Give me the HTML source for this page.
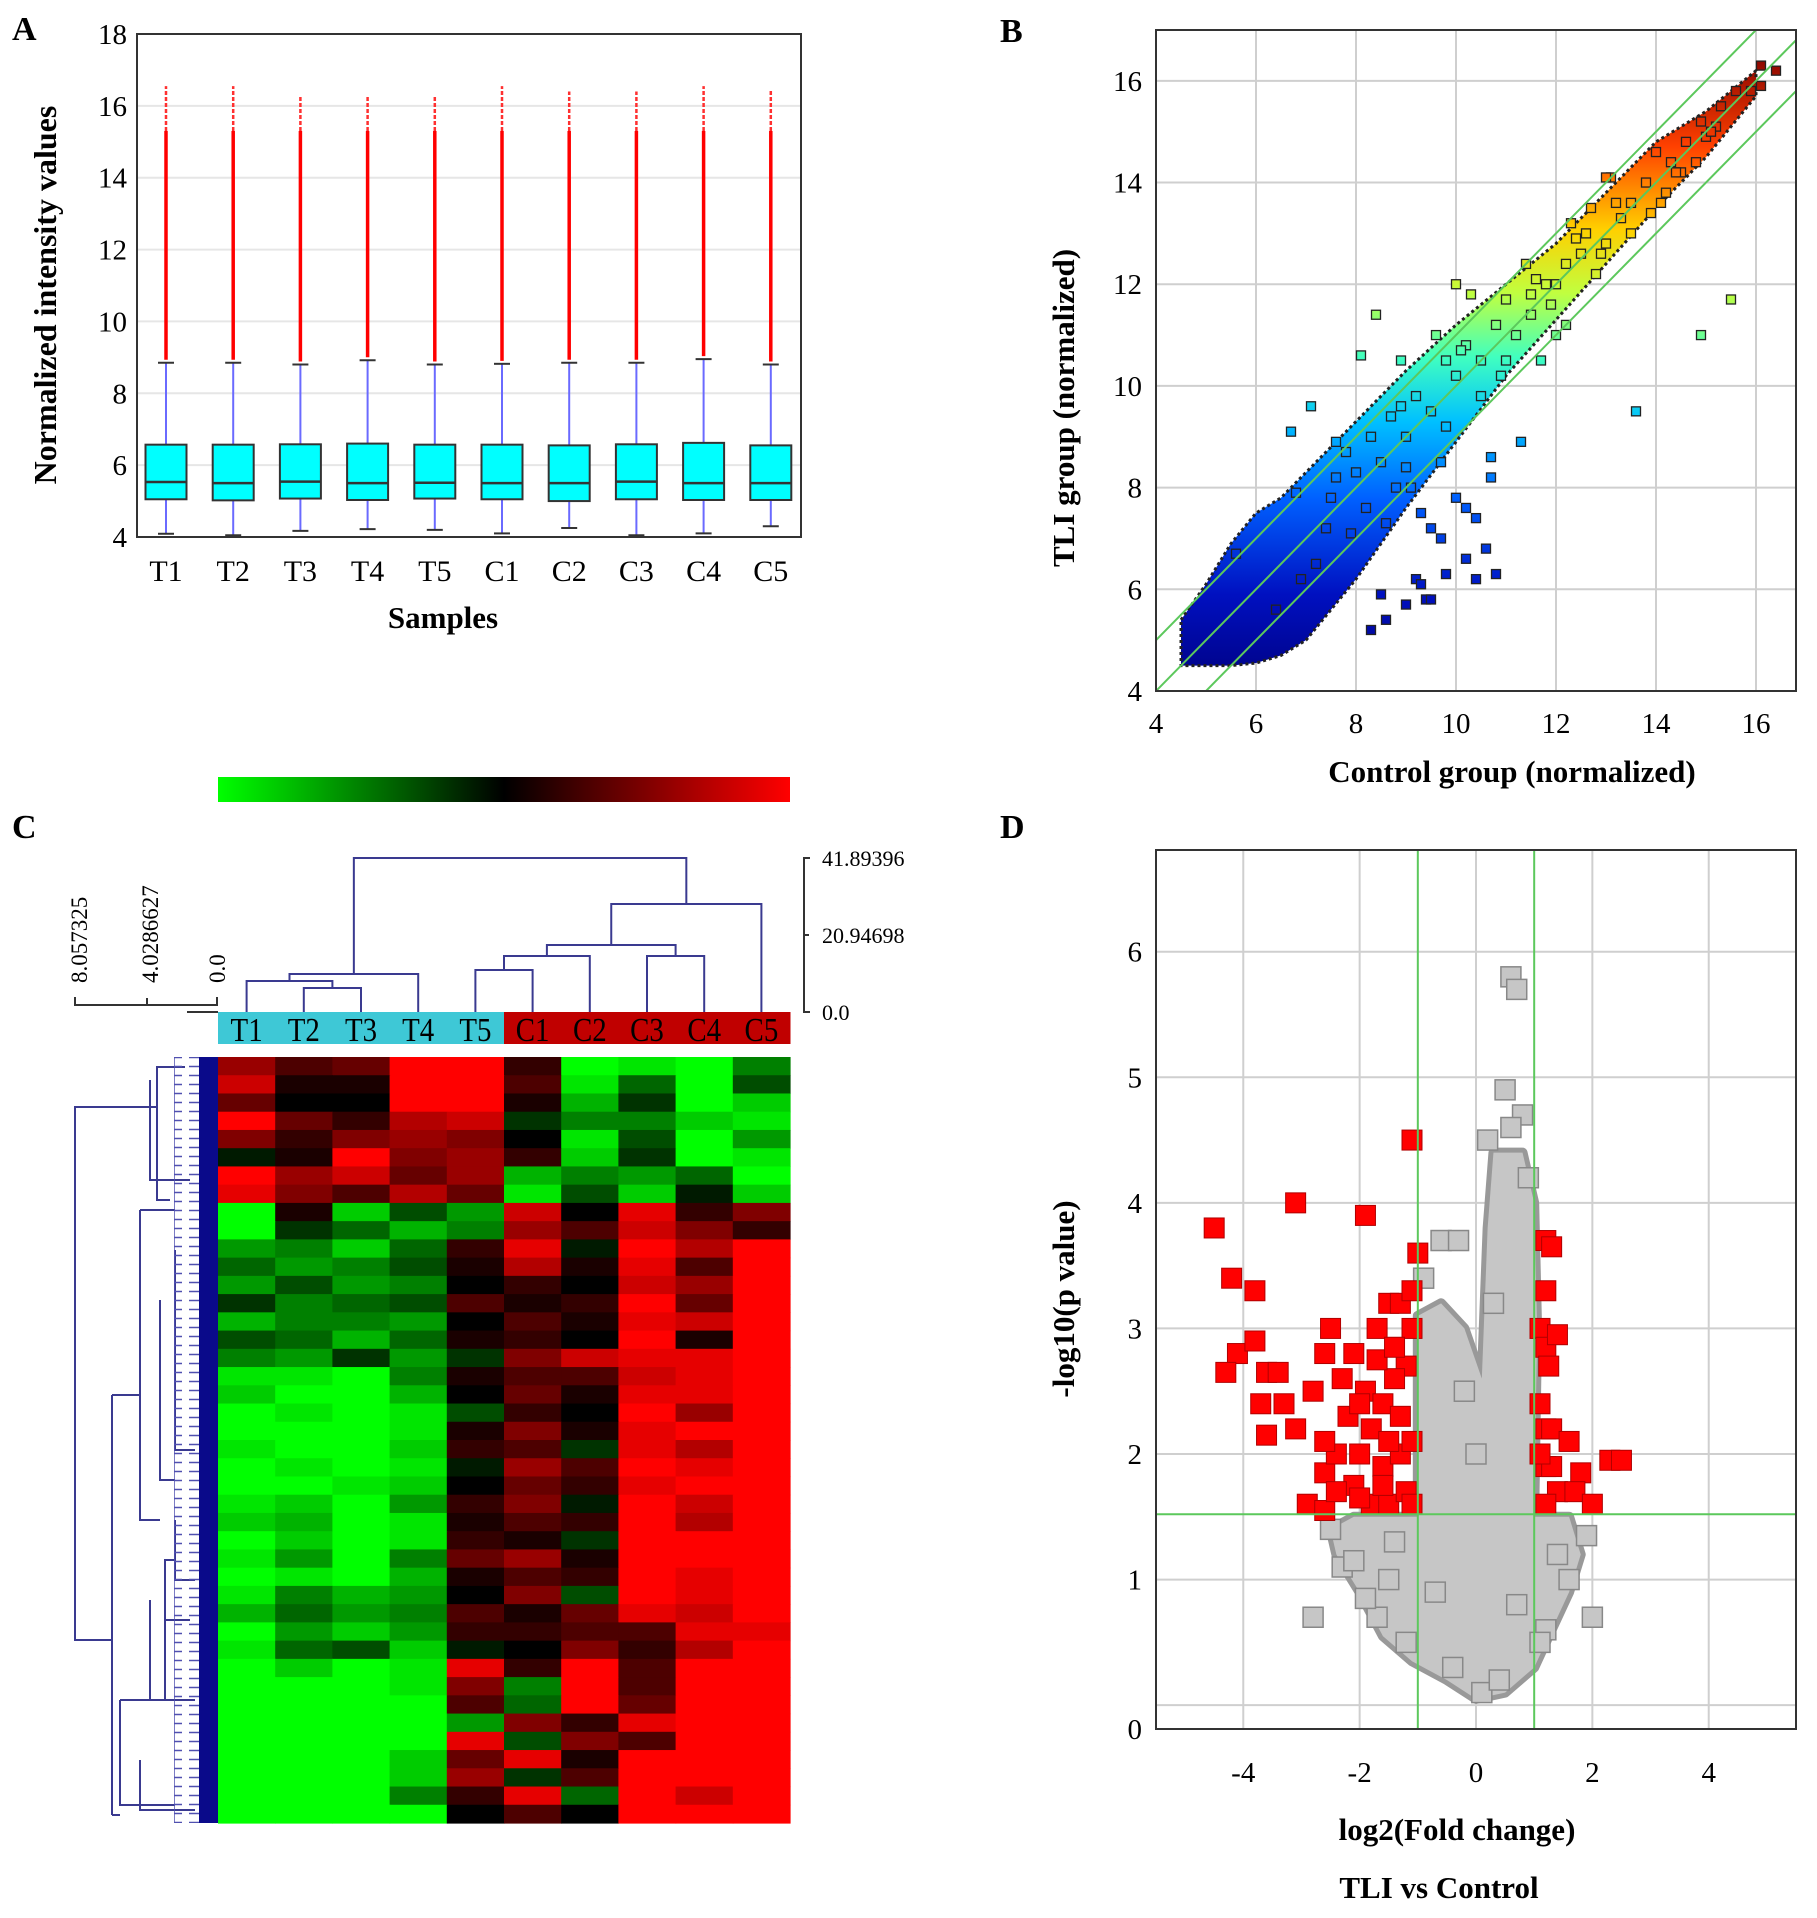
<!DOCTYPE html>
<html><head><meta charset="utf-8">
<style>
html,body{margin:0;padding:0;background:#fff;}
svg{display:block;font-family:"Liberation Serif",serif;}
</style></head>
<body>
<svg id="fig" width="1817" height="1918" viewBox="0 0 1817 1918" xmlns="http://www.w3.org/2000/svg">
<defs>
<linearGradient id="cbar" x1="0" x2="1" y1="0" y2="0">
<stop offset="0" stop-color="#00ff00"/><stop offset="0.5" stop-color="#000"/><stop offset="1" stop-color="#ff0000"/>
</linearGradient>
<linearGradient id="jetB" gradientUnits="userSpaceOnUse" x1="0" y1="691" x2="0" y2="50">
<stop offset="0" stop-color="#00007f"/><stop offset="0.15" stop-color="#0010c0"/><stop offset="0.3" stop-color="#0060ff"/><stop offset="0.42" stop-color="#00c0ff"/><stop offset="0.52" stop-color="#40ffc0"/><stop offset="0.62" stop-color="#c0ff40"/><stop offset="0.72" stop-color="#ffd000"/><stop offset="0.85" stop-color="#ff4000"/><stop offset="1" stop-color="#800000"/>
</linearGradient>
<pattern id="leafPat" width="27" height="9" patternUnits="userSpaceOnUse">
<path d="M0,4.5H20M12,0V9" stroke="#5050b0" stroke-width="1.5" fill="none"/>
</pattern>
</defs>
<g id="pA"></g>
<g id="pB"></g>
<g id="pC"></g>
<g id="pD"></g>
</svg>
<script>
// ---------- Panel A data ----------
const samplesA = ["T1","T2","T3","T4","T5","C1","C2","C3","C4","C5"];
const q1A = [5.05,5.02,5.07,5.03,5.07,5.05,5.0,5.05,5.03,5.03];
const medA = [5.53,5.5,5.54,5.5,5.51,5.5,5.5,5.54,5.5,5.5];
const q3A = [6.57,6.57,6.58,6.6,6.57,6.57,6.55,6.58,6.62,6.55];
const loA = [4.09,4.05,4.17,4.22,4.2,4.1,4.25,4.05,4.1,4.3];
const hiA = [8.85,8.85,8.8,8.92,8.8,8.82,8.85,8.85,8.95,8.8];
const maxA = [16.55,16.55,16.25,16.3,16.25,16.55,16.4,16.4,16.55,16.45];
const denseA = [15.3,15.3,15.3,15.3,15.3,15.3,15.3,15.3,15.3,15.3];
const yTicksA = [4,6,8,10,12,14,16,18];

// ---------- Panel B data ----------
const xTicksB = [4,6,8,10,12,14,16];
const yTicksB = [4,6,8,10,12,14,16];
const cloudX = [4.5,5,5.5,6,6.5,7,8,9,10,11,12,13,14,15,16];
const cloudLo = [4.5,4.5,4.5,4.55,4.7,5.0,6.2,7.6,8.9,10.2,11.3,12.4,13.5,14.5,15.7];
const cloudHi = [5.4,6.1,6.9,7.5,7.8,8.3,9.3,10.3,11.2,12.0,12.8,13.8,14.8,15.4,16.2];
const ptsBx = [15.5,14.9,13.6,10,10.3,8.4,8.1,7.1,6.7,11.3,10.7,10.7,9.7,10,10.2,10.4,10.6,10.8,10.2,9.8,10.4,9.2,9.4,9.5,9,8.3,8.6,8.5,9.3,9.5,9.7,9.3,5.6,8.9,9.6,11.7,12,13.1,13,14.9,15.2,15.9,16.1,16.4,16.1,15.6,14.6,14.3,14,13.5,12.3,11.4,12.8,11,12.2,11.8,13.3,14.1,12.6,13.8,12.5,11.5,10.5,9.5,12,13,14.5,15,11,10,9,8.5,8,7.5,12.2,11.5,10.8,9.8,9.2,8.7,8.3,7.8,7.6,10.5,10.9,11.9,13.5,14.2,12.9,9,9.8,8.2,8.8,7.4,10.2,11.2,12.7,13.9,14.8,15.3,7.9,8.6,9.1,6.9,7.2,6.4,6.8,7.6,8.9,10.1,11.6,12.4,13.2,14.4,15.1];
const ptsBy = [11.7,11,9.5,12,11.8,11.4,10.6,9.6,9.1,8.9,8.6,8.2,8.5,7.8,7.6,7.4,6.8,6.3,6.6,6.3,6.2,6.2,5.8,5.8,5.7,5.2,5.4,5.9,6.1,7.2,7,7.5,6.7,10.5,11,10.5,11,14.1,14.1,15.2,15.1,15.8,16.3,16.2,15.9,15.8,14.8,14.4,14.6,13.6,13.2,12.4,12.2,11.7,12.4,12,13.3,13.6,13,14,12.6,11.4,10.5,9.5,12,12.8,14.2,14.9,10.5,10.2,9,8.5,8.3,7.8,11.2,11.8,11.2,10.5,9.8,9.4,9,8.7,8.2,9.8,10.2,11.6,13,13.8,12.6,8.4,9.2,7.6,8,7.2,10.8,11,13.5,13.4,14.4,15.5,7.1,7.3,8.0,6.2,6.5,5.6,7.9,8.9,9.6,10.7,12.1,12.9,13.6,14.2,15.0];

// ---------- Panel C data ----------
const samplesC = ["T1","T2","T3","T4","T5","C1","C2","C3","C4","C5"];
const heatRows = [
[.6,.3,.4,1,1,.2,-1,-.9,-1,-.5],[.8,.1,.1,1,1,.3,-.9,-.4,-1,-.3],[.4,0,0,1,1,.1,-.7,-.2,-1,-.8],
[1,.4,.2,.7,.8,-.2,-.5,-.5,-.8,-.9],[.5,.2,.5,.6,.5,0,-.9,-.3,-1,-.6],[-.1,.1,1,.5,.6,.2,-.8,-.2,-1,-.9],
[1,.6,.8,.4,.6,-.7,-.5,-.6,-.4,-1],[.9,.5,.3,.7,.4,-.9,-.3,-.8,-.1,-.8],[-1,.1,-.8,-.3,-.6,.8,0,.9,.2,.5],
[-1,-.2,-.4,-.7,-.5,.6,.3,.8,.5,.2],[-.6,-.5,-.8,-.4,.2,.9,-.1,1,.7,1],[-.4,-.6,-.5,-.3,.1,.7,.1,.9,.3,1],
[-.6,-.3,-.6,-.5,0,.2,0,.8,.6,1],[-.2,-.5,-.4,-.3,.3,.1,.2,1,.4,1],[-.7,-.5,-.5,-.6,0,.3,.1,.9,.8,1],
[-.3,-.4,-.7,-.4,.1,.2,0,1,.1,1],[-.5,-.6,-.2,-.6,-.2,.5,.8,.9,.9,1],[-.9,-.9,-1,-.5,.1,.3,.3,.8,.9,1],
[-.8,-1,-1,-.7,0,.4,.1,.9,.9,1],[-1,-.9,-1,-.9,-.3,.2,0,1,.6,1],[-1,-1,-1,-.9,.1,.5,.1,.9,1,1],
[-.9,-1,-1,-.8,.2,.3,-.2,.9,.7,1],[-1,-.9,-1,-.9,-.1,.6,.3,1,.9,1],[-1,-1,-.9,-.8,0,.4,.2,.9,1,1],
[-.9,-.8,-1,-.6,.2,.5,-.1,1,.8,1],[-.8,-.7,-1,-.9,.1,.3,.2,1,.7,1],[-1,-.8,-1,-.9,.2,.1,-.2,1,1,1],
[-.9,-.6,-1,-.5,.4,.6,.1,1,1,1],[-1,-.9,-1,-.7,.1,.3,.2,1,.9,1],[-.9,-.5,-.7,-.6,0,.5,-.3,1,.9,1],
[-.7,-.4,-.6,-.5,.3,.1,.4,.9,.8,1],[-1,-.6,-.8,-.6,.2,.2,.3,.3,.9,.9],[-.9,-.4,-.3,-.8,-.1,0,.5,.2,.7,1],
[-1,-.8,-1,-.9,.9,.2,1,.3,1,1],[-1,-1,-1,-.9,.5,-.5,1,.3,1,1],[-1,-1,-1,-1,.3,-.4,1,.4,1,1],
[-1,-1,-1,-1,-.6,.5,.2,.9,1,1],[-1,-1,-1,-1,.9,-.3,.5,.3,1,1],[-1,-1,-1,-.8,.4,.9,.1,1,1,1],
[-1,-1,-1,-.8,.6,-.2,.3,1,1,1],[-1,-1,-1,-.5,.2,.9,-.4,1,.8,1],[-1,-1,-1,-1,0,.3,0,1,1,1]];
const scaleTicksC = ["41.89396","20.94698","0.0"];
const scaleValsC = [41.89396,20.94698,0];
const rowScaleTicks = ["8.057325","4.0286627","0.0"];

// ---------- Panel D data ----------
const xTicksD = [-4,-2,0,2,4];
const yTicksD = [0,1,2,3,4,5,6];
const grayEnvX = [0,-0.5,-1.1,-1.6,-2.0,-2.4,-2.5,-2.1,-1.0,-1.0,-0.6,-0.2,0.1,0.2,0.3,0.8,1.0,1.05,1.0,1.6,1.8,1.6,1.3,1.0,0.5];
const grayEnvY = [0.05,0.2,0.35,0.55,0.9,1.2,1.4,1.5,1.5,3.1,3.2,3.0,2.6,3.8,4.4,4.4,4.0,3.0,1.5,1.5,1.2,0.9,0.6,0.3,0.1];
const grayX = [0.6,0.7,0.5,0.8,0.6,0.2,-0.6,-0.3,-2.5,-2.8,2.0,1.9,-2.3,-2.1,-1.5,1.6,-1.7,-0.9,0.9,0.1,-0.4,0.4,-1.2,1.2,-1.9,1.4,0.0,-0.2,0.3,-0.7,0.7,-1.4,1.1];
const grayY = [5.8,5.7,4.9,4.7,4.6,4.5,3.7,3.7,1.4,0.7,0.7,1.35,1.1,1.15,1.0,1.0,0.7,3.4,4.2,0.1,0.3,0.2,0.5,0.6,0.85,1.2,2.0,2.5,3.2,0.9,0.8,1.3,0.5];
const redX = [-4.5,-3.1,-1.9,-1.1,-1.0,-4.2,-3.8,-4.1,-3.8,-4.3,-3.6,-3.4,-3.7,-3.6,-3.3,-3.1,-2.8,-2.6,-2.5,-2.1,-1.7,-1.5,-1.3,-1.1,-1.1,-1.2,-2.6,-2.4,-2.0,-1.6,-1.3,-1.8,-1.5,-2.1,-1.2,-2.9,-2.6,-2.2,-1.9,-1.6,-1.4,-2.3,-1.8,-1.3,-2.6,-1.1,-1.1,-2.0,-1.6,-2.4,-1.7,-1.4,-2.0,-1.5,1.2,1.3,1.2,1.1,1.2,1.4,1.25,1.1,1.2,1.3,1.6,1.2,1.3,1.8,1.4,1.7,2.0,1.2,2.3,2.5,1.1];
const redY = [3.8,4.0,3.9,4.5,3.6,3.4,3.3,2.8,2.9,2.65,2.65,2.65,2.4,2.15,2.4,2.2,2.5,2.8,3.0,2.8,3.0,3.2,3.2,3.3,3.0,2.7,1.85,2.0,2.0,1.9,2.0,1.6,1.6,1.75,1.7,1.6,1.55,2.3,2.5,2.4,2.6,2.6,2.2,2.3,2.1,2.1,1.6,1.65,1.75,1.7,2.75,2.85,2.4,2.1,3.7,3.65,3.3,3.0,2.85,2.95,2.7,2.4,2.2,2.2,2.1,1.9,1.9,1.85,1.7,1.7,1.6,1.6,1.95,1.95,2.0];

const NS = "http://www.w3.org/2000/svg";
function mk(tag, attrs, parent){
  const e = document.createElementNS(NS, tag);
  for (const k in attrs) e.setAttribute(k, attrs[k]);
  parent.appendChild(e);
  return e;
}
function txt(str, attrs, parent){ const t = mk("text", attrs, parent); t.textContent = str; return t; }

// ================= Panel A =================
(function(){
  const g = document.getElementById("pA");
  const L=137,R=801,T=34,B=537;
  const y = v => B - (v-4)/(18-4)*(B-T);
  const x0=166, dx=67.2, bw=41;
  const xs = i => x0 + i*dx;
  let lbl = txt("A",{x:12,y:40,"font-size":34,"font-weight":"bold"},g);
  
  
  yTicksA.forEach(v=>{
    const gl = mk("line",{x1:L,x2:R,y1:y(v),y2:y(v),stroke:"#e6e6e6","stroke-width":2},g);
    
    
    const t = txt(String(v),{x:L-10,y:y(v)+10,"font-size":29,"text-anchor":"end"},g);
    
    
  });
  samplesA.forEach((s,i)=>{
    const cx = xs(i);
    const w = mk("line",{x1:cx,x2:cx,y1:y(loA[i]),y2:y(hiA[i]),stroke:"#6a6aff","stroke-width":2},g);
    
    
    [loA[i],hiA[i]].forEach(v=>{
      const c = mk("line",{x1:cx-8,x2:cx+8,y1:y(v),y2:y(v),stroke:"#333","stroke-width":2},g);
      
      
    });
    const o1 = mk("line",{x1:cx,x2:cx,y1:y(hiA[i])-3,y2:y(denseA[i]),stroke:"#ff0000","stroke-width":3.5},g);
    
    
    const o2 = mk("line",{x1:cx,x2:cx,y1:y(denseA[i]),y2:y(maxA[i]),stroke:"#ff3030","stroke-width":2.5,"stroke-dasharray":"4 2"},g);
    
    
    const b = mk("rect",{x:cx-bw/2,y:y(q3A[i]),width:bw,height:y(q1A[i])-y(q3A[i]),fill:"#00ffff",stroke:"#333","stroke-width":2},g);
    
    
    const m = mk("line",{x1:cx-bw/2,x2:cx+bw/2,y1:y(medA[i]),y2:y(medA[i]),stroke:"#333","stroke-width":2.5},g);
    
    
    const t = txt(s,{x:cx,y:581,"font-size":30,"text-anchor":"middle"},g);
    
    
  });
  const fr = mk("rect",{x:L,y:T,width:R-L,height:B-T,fill:"none",stroke:"#333","stroke-width":2},g);
  
  
  const xt = txt("Samples",{x:443,y:628,"font-size":31,"font-weight":"bold","text-anchor":"middle"},g);
  
  
  const yt = txt("Normalized intensity values",{x:0,y:0,"font-size":32,"font-weight":"bold","text-anchor":"middle",transform:"translate(56,295) rotate(-90)"},g);
  
  
})();

// ================= Panel B =================
(function(){
  const g = document.getElementById("pB");
  const L=1156,R=1796,T=30,B=691;
  const x = v => L + (v-4)/(16.8-4)*(R-L);
  const y = v => B - (v-4)/(17-4)*(B-T);
  const lbl = txt("B",{x:1000,y:42,"font-size":34,"font-weight":"bold"},g);
  
  
  xTicksB.forEach(v=>{
    const gl = mk("line",{x1:x(v),x2:x(v),y1:T,y2:B,stroke:"#cfcfcf","stroke-width":2},g);
    
    
    const t = txt(String(v),{x:x(v),y:733,"font-size":29,"text-anchor":"middle"},g);
    
    
  });
  yTicksB.forEach(v=>{
    const gl = mk("line",{x1:L,x2:R,y1:y(v),y2:y(v),stroke:"#cfcfcf","stroke-width":2},g);
    
    
    const t = txt(String(v),{x:L-14,y:y(v)+10,"font-size":29,"text-anchor":"end"},g);
    
    
  });
  const clip = mk("clipPath",{id:"clipB"},g);
  mk("rect",{x:L,y:T,width:R-L,height:B-T},clip);
  const inner = mk("g",{"clip-path":"url(#clipB)"},g);
  let d = "";
  cloudX.forEach((v,i)=>{ d += (i?"L":"M")+x(v)+","+y(cloudHi[i]); });
  for(let i=cloudX.length-1;i>=0;i--) d += "L"+x(cloudX[i])+","+y(cloudLo[i]);
  const cl = mk("path",{d:d+"Z",fill:"url(#jetB)",stroke:"#222","stroke-width":3,"stroke-dasharray":"3 3","stroke-linejoin":"round"},inner);
  
  
  ptsBx.forEach((v,i)=>{
    const p = mk("rect",{x:x(v)-4.5,y:y(ptsBy[i])-4.5,width:9,height:9,fill:"url(#jetB)",stroke:"#222","stroke-width":1.3},inner);
    
    
  });
  [-1,0,1].forEach(off=>{
    const ln = mk("line",{x1:x(4),y1:y(4+off),x2:x(17),y2:y(17+off),stroke:"#5cc85c","stroke-width":2},inner);
    
    
  });
  const fr = mk("rect",{x:L,y:T,width:R-L,height:B-T,fill:"none",stroke:"#333","stroke-width":2},g);
  
  
  const xt = txt("Control group (normalized)",{x:1512,y:782,"font-size":31,"font-weight":"bold","text-anchor":"middle"},g);
  
  
  const yt = txt("TLI group (normalized)",{x:0,y:0,"font-size":31,"font-weight":"bold","text-anchor":"middle",transform:"translate(1074,408) rotate(-90)"},g);
  
  
})();

// ================= Panel C =================
(function(){
  const g = document.getElementById("pC");
  const HL=218,HR=790,HT=1057,HB=1823;
  const cw=(HR-HL)/10;
  const cx = i => HL + cw*(i+0.5);
  const lbl = txt("C",{x:12,y:838,"font-size":34,"font-weight":"bold"},g);
  
  
  const cb = mk("rect",{x:HL,y:777,width:HR-HL,height:25,fill:"url(#cbar)"},g);
  
  
  samplesC.forEach((s,i)=>{
    const r = mk("rect",{x:HL+cw*i,y:1012,width:cw+0.5,height:32,fill:i<5?"#3ec8d6":"#c00000"},g);
    
    
    const t = txt(s,{x:0,y:0,"font-size":34,"text-anchor":"middle",fill:"#000",transform:"translate("+cx(i)+",1041) scale(0.85,1)"},g);
    
    
  });
  const rh=(HB-HT)/heatRows.length;
  heatRows.forEach((row,r)=>{
    row.forEach((v,c)=>{
      const a=Math.round(Math.abs(v)*255);
      const col = v<0 ? "rgb(0,"+a+",0)" : "rgb("+a+",0,0)";
      const cell = mk("rect",{x:HL+cw*c,y:HT+rh*r,width:cw+0.6,height:rh+0.6,fill:col},g);
      
      
    });
  });
  const dg = mk("g",{stroke:"#3a3a90","stroke-width":2,fill:"none"},g);
  
  
  const yb=1012, ys = v => yb - v/41.89396*(yb-858);
  const X=[cx(0),cx(1),cx(2),cx(3),cx(4),cx(5),cx(6),cx(7),cx(8),cx(9)];
  const segs = [
    [X[1],yb,X[2],yb,988],
    [X[0],yb,(X[1]+X[2])/2,988,981],
    [(X[0]+(X[1]+X[2])/2)/2,981,X[3],yb,974],
    [X[4],yb,X[5],yb,970],
    [(X[4]+X[5])/2,970,X[6],yb,956],
    [X[7],yb,X[8],yb,956],
    [((X[4]+X[5])/2+X[6])/2,956,(X[7]+X[8])/2,956,945],
    [(((X[4]+X[5])/2+X[6])/2+(X[7]+X[8])/2)/2,945,X[9],yb,904]
  ];
  segs.forEach(s=>{
    const p = mk("path",{d:"M"+s[0]+","+s[1]+"V"+s[4]+"H"+s[2]+"V"+s[3]},dg);
    
    
  });
  const tMid = ((X[0]+(X[1]+X[2])/2)/2+X[3])/2;
  const cMid = ((((X[4]+X[5])/2+X[6])/2+(X[7]+X[8])/2)/2+X[9])/2;
  const root = mk("path",{d:"M"+tMid+",974V858H"+cMid+"V904"},dg);
  
  
  const sc = mk("path",{d:"M810,"+ys(41.89396)+"H804V"+ys(0)+"H810M804,"+ys(20.94698)+"H809",stroke:"#333","stroke-width":2,fill:"none"},g);
  
  
  scaleValsC.forEach((v,i)=>{
    const t = txt(scaleTicksC[i],{x:822,y:ys(v)+8,"font-size":22},g);
    
    
  });
  const ls = mk("path",{d:"M75,997V1005H217V997M147,1005V998M187,1012H218",stroke:"#333","stroke-width":2,fill:"none"},g);
  
  
  [87,158,225].forEach((xx,i)=>{
    const t = txt(rowScaleTicks[i],{x:0,y:0,"font-size":23,"text-anchor":"start",transform:"translate("+xx+",983) rotate(-90)"},g);
    
    
  });
  const lg = mk("g",{stroke:"#3a3a90","stroke-width":2,fill:"none"},g);
  
  
  const ldPaths = [
    "M185,1067H157V1200H170","M157,1107H75V1640H112","M112,1395V1815",
    "M112,1395H140","M112,1815H120","M140,1210V1520H160","M140,1210H175","M160,1300V1480H175","M120,1700V1805H175",
    "M120,1700H165V1560H175","M165,1620H190","M175,1520V1580H195","M150,1080V1180H190","M175,1250V1450H195","M150,1600V1700H195","M140,1760V1810H195"
  ];
  ldPaths.forEach(d=>{
    const p = mk("path",{d:d},lg);
    
    
  });
  const fr1 = mk("rect",{x:174,y:HT,width:25,height:HB-HT,fill:"url(#leafPat)"},g);
  
  
  const fr2 = mk("rect",{x:199,y:HT,width:19,height:HB-HT,fill:"#0a0a8a"},g);
  
  
})();

// ================= Panel D =================
(function(){
  const g = document.getElementById("pD");
  const L=1156,R=1796,T=850,B=1729;
  const x = v => L + (v+5.5)/11*(R-L);
  const y = v => B - (v+0.19)/(6.81+0.19)*(B-T);
  const lbl = txt("D",{x:1000,y:838,"font-size":34,"font-weight":"bold"},g);
  
  
  xTicksD.forEach(v=>{
    const gl = mk("line",{x1:x(v),x2:x(v),y1:T,y2:B,stroke:"#cfcfcf","stroke-width":2},g);
    
    
    const t = txt(String(v),{x:x(v),y:1782,"font-size":29,"text-anchor":"middle"},g);
    
    
  });
  yTicksD.forEach(v=>{
    const gl = mk("line",{x1:L,x2:R,y1:y(v),y2:y(v),stroke:"#cfcfcf","stroke-width":2},g);
    
    
    const t = txt(String(v),{x:L-14,y:(v===0?B:y(v))+10,"font-size":29,"text-anchor":"end"},g);
    
    
  });
  const clip = mk("clipPath",{id:"clipD"},g);
  mk("rect",{x:L,y:T,width:R-L,height:B-T},clip);
  const inner = mk("g",{"clip-path":"url(#clipD)"},g);
  let d="";
  grayEnvX.forEach((v,i)=>{ d += (i?"L":"M")+x(v)+","+y(grayEnvY[i]); });
  const env = mk("path",{d:d+"Z",fill:"#c6c6c6",stroke:"#999","stroke-width":10,"stroke-linejoin":"round"},inner);
  
  
  const env2 = mk("path",{d:d+"Z",fill:"#c6c6c6"},inner);
  
  
  grayX.forEach((v,i)=>{
    const p = mk("rect",{x:x(v)-10,y:y(grayY[i])-10,width:20,height:20,fill:"#c6c6c6",stroke:"#888","stroke-width":1.5},inner);
    
    
  });
  redX.forEach((v,i)=>{
    const p = mk("rect",{x:x(v)-10,y:y(redY[i])-10,width:20,height:20,fill:"#ff0000",stroke:"#b00000","stroke-width":1},inner);
    
    
  });
  [-1,1].forEach(v=>{
    const ln = mk("line",{x1:x(v),x2:x(v),y1:T,y2:B,stroke:"#5cc85c","stroke-width":2},inner);
    
    
  });
  const hl = mk("line",{x1:L,x2:R,y1:y(1.52),y2:y(1.52),stroke:"#5cc85c","stroke-width":2},inner);
  
  
  const fr = mk("rect",{x:L,y:T,width:R-L,height:B-T,fill:"none",stroke:"#333","stroke-width":2},g);
  
  
  const xt = txt("log2(Fold change)",{x:1457,y:1840,"font-size":31,"font-weight":"bold","text-anchor":"middle"},g);
  
  
  const st = txt("TLI vs Control",{x:1439,y:1898,"font-size":31,"font-weight":"bold","text-anchor":"middle"},g);
  
  
  const yt = txt("-log10(p value)",{x:0,y:0,"font-size":31,"font-weight":"bold","text-anchor":"middle",transform:"translate(1074,1299) rotate(-90)"},g);
  
  
})();
</script>
</body></html>
